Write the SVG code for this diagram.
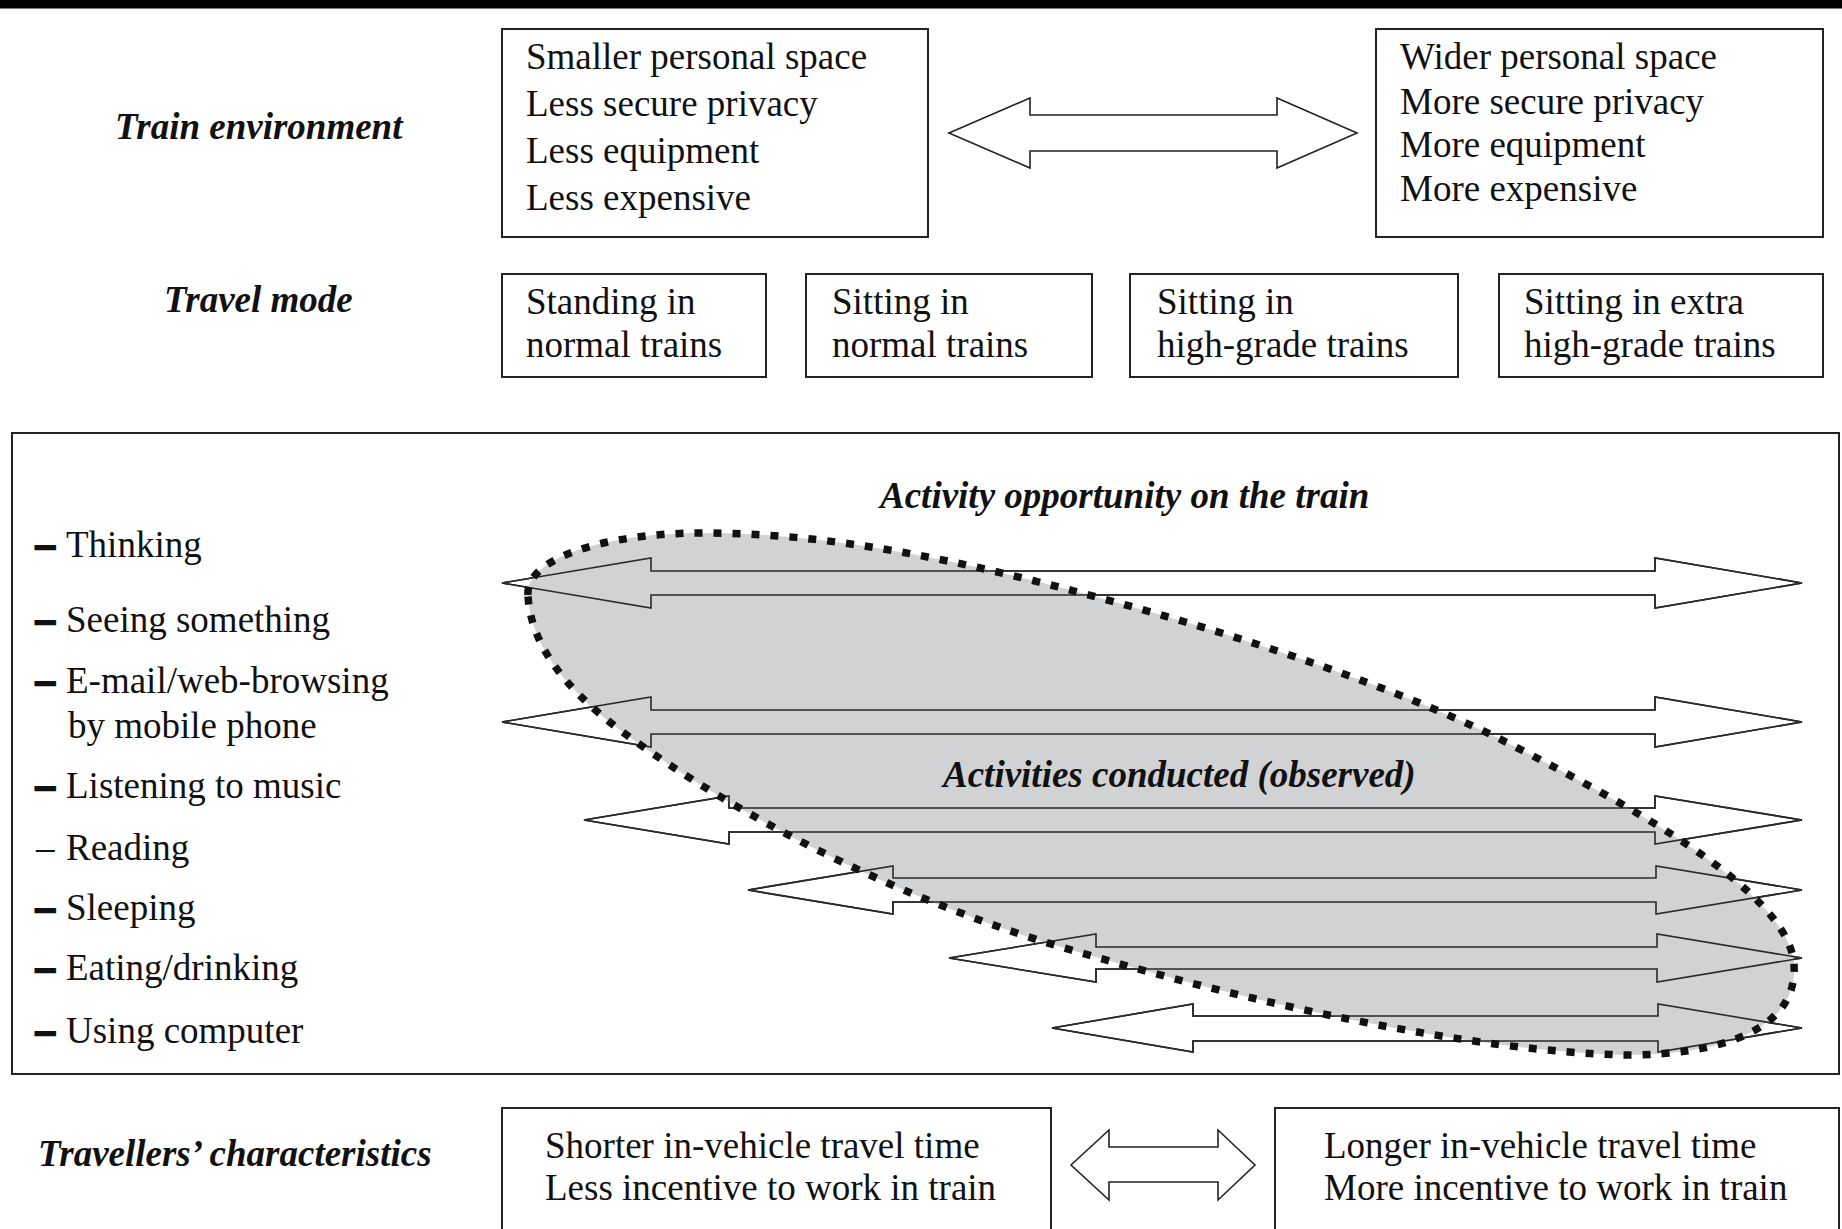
<svg xmlns="http://www.w3.org/2000/svg" xmlns:xlink="http://www.w3.org/1999/xlink" width="1842" height="1229" viewBox="0 0 1842 1229">
  <style>
    .t { font-family: "Liberation Serif", "Times New Roman", serif; font-size: 37px; fill: #111; }
    .h { font-weight: bold; font-style: italic; }
    .dash { font-weight: bold; stroke: #111; stroke-width: 2.6; }
    .box { fill: #fff; stroke: #222; stroke-width: 2; }
    .arrow { fill: #fff; stroke: #222; stroke-width: 1.6; stroke-linejoin: miter; }
    .outline { fill: none; stroke: #2a2a2a; stroke-width: 1.6; stroke-linejoin: miter; }
    .blob { fill: #d1d2d4; stroke: none; }
    .dots { fill: none; stroke: #111; stroke-width: 7.5; stroke-dasharray: 8 11; }
  </style>
  <defs>
    <!-- double-headed block arrows of the activity panel -->
    <path id="a1" d="M502,583 L651,558 L651,571 L1655,571 L1655,558 L1802,583 L1655,608 L1655,595 L651,595 L651,608 Z"/>
    <path id="a2" d="M502,722 L651,697 L651,710 L1655,710 L1655,697 L1802,722 L1655,747 L1655,734 L651,734 L651,747 Z"/>
    <path id="a3" d="M584,820 L729,796 L729,808 L1655,808 L1655,796 L1802,820 L1655,844 L1655,832 L729,832 L729,844 Z"/>
    <path id="a4" d="M748,890 L893,866 L893,878 L1656,878 L1656,866 L1802,890 L1656,914 L1656,902 L893,902 L893,914 Z"/>
    <path id="a5" d="M949,958 L1096,934 L1096,947 L1657,947 L1657,934 L1802,958 L1657,982 L1657,969 L1096,969 L1096,982 Z"/>
    <path id="a6" d="M1052,1028 L1193,1004 L1193,1016 L1658,1016 L1658,1004 L1802,1028 L1658,1052 L1658,1041 L1193,1041 L1193,1052 Z"/>
    <path id="observed" d="M528,595 C525,560 600,533 704,533 C830,533 960,560 1100,598 C1250,638 1400,690 1496,737 C1620,800 1790,890 1794,965 C1798,1030 1720,1055 1626,1055 C1480,1052 1250,1005 1038,940 C850,880 700,790 620,730 C560,685 530,640 528,595 Z"/>
  </defs>

  <rect x="0" y="0" width="1842" height="8.5" fill="#000"/>

  <!-- row labels -->
  <g id="label-train-environment"><text class="t h" x="115" y="139">Train environment</text></g>
  <g id="label-travel-mode"><text class="t h" x="164" y="312">Travel mode</text></g>
  <g id="label-travellers"><text class="t h" x="38" y="1166">Travellers’ characteristics</text></g>

  <!-- train environment -->
  <g id="env-low">
    <rect class="box" x="502" y="29" width="426" height="208"/>
    <text class="t" x="526" y="69">Smaller personal space</text>
    <text class="t" x="526" y="116">Less secure privacy</text>
    <text class="t" x="526" y="163">Less equipment</text>
    <text class="t" x="526" y="210">Less expensive</text>
  </g>
  <g id="env-high">
    <rect class="box" x="1376" y="29" width="447" height="208"/>
    <text class="t" x="1400" y="69">Wider personal space</text>
    <text class="t" x="1400" y="114">More secure privacy</text>
    <text class="t" x="1400" y="157">More equipment</text>
    <text class="t" x="1400" y="201">More expensive</text>
  </g>

  <!-- travel modes -->
  <g id="mode-standing">
    <rect class="box" x="502" y="274" width="264" height="103"/>
    <text class="t" x="526" y="314">Standing in</text>
    <text class="t" x="526" y="357">normal trains</text>
  </g>
  <g id="mode-sitting-normal">
    <rect class="box" x="806" y="274" width="286" height="103"/>
    <text class="t" x="832" y="314">Sitting in</text>
    <text class="t" x="832" y="357">normal trains</text>
  </g>
  <g id="mode-sitting-high">
    <rect class="box" x="1130" y="274" width="328" height="103"/>
    <text class="t" x="1157" y="314">Sitting in</text>
    <text class="t" x="1157" y="357">high-grade trains</text>
  </g>
  <g id="mode-sitting-extra">
    <rect class="box" x="1499" y="274" width="324" height="103"/>
    <text class="t" x="1524" y="314">Sitting in extra</text>
    <text class="t" x="1524" y="357">high-grade trains</text>
  </g>

  <!-- activity panel -->
  <g id="activity-panel">
    <rect class="box" x="12" y="433" width="1827" height="641"/>
    <text class="t h" x="880" y="508">Activity opportunity on the train</text>
    <g id="activity-list">
      <text class="t"><tspan class="dash" x="36" y="557">–</tspan><tspan x="66" y="557">Thinking</tspan></text>
      <text class="t"><tspan class="dash" x="36" y="632">–</tspan><tspan x="66" y="632">Seeing something</tspan></text>
      <text class="t"><tspan class="dash" x="36" y="693">–</tspan><tspan x="66" y="693">E-mail/web-browsing</tspan></text>
      <text class="t" x="68" y="738">by mobile phone</text>
      <text class="t"><tspan class="dash" x="36" y="798">–</tspan><tspan x="66" y="798">Listening to music</tspan></text>
      <text class="t"><tspan x="36" y="860">–</tspan><tspan x="66" y="860">Reading</tspan></text>
      <text class="t"><tspan class="dash" x="36" y="920">–</tspan><tspan x="66" y="920">Sleeping</tspan></text>
      <text class="t"><tspan class="dash" x="36" y="980">–</tspan><tspan x="66" y="980">Eating/drinking</tspan></text>
      <text class="t"><tspan class="dash" x="36" y="1043">–</tspan><tspan x="66" y="1043">Using computer</tspan></text>
    </g>
    <g id="opportunity-arrows">
      <use xlink:href="#a1" class="arrow"/>
      <use xlink:href="#a2" class="arrow"/>
      <use xlink:href="#a3" class="arrow"/>
      <use xlink:href="#a4" class="arrow"/>
      <use xlink:href="#a5" class="arrow"/>
      <use xlink:href="#a6" class="arrow"/>
    </g>
    <g id="activities-observed">
      <use xlink:href="#observed" class="blob"/>
      <use xlink:href="#a1" class="outline"/>
      <use xlink:href="#a2" class="outline"/>
      <use xlink:href="#a3" class="outline"/>
      <use xlink:href="#a4" class="outline"/>
      <use xlink:href="#a5" class="outline"/>
      <use xlink:href="#a6" class="outline"/>
      <use xlink:href="#observed" class="dots"/>
      <text class="t h" x="943" y="787">Activities conducted (observed)</text>
    </g>
  </g>

  <!-- travellers' characteristics -->
  <g id="trav-short">
    <rect class="box" x="502" y="1108" width="549" height="140"/>
    <text class="t" x="545" y="1158">Shorter in-vehicle travel time</text>
    <text class="t" x="545" y="1200">Less incentive to work in train</text>
  </g>
  <g id="trav-long">
    <rect class="box" x="1275" y="1108" width="564" height="140"/>
    <text class="t" x="1324" y="1158">Longer in-vehicle travel time</text>
    <text class="t" x="1324" y="1200">More incentive to work in train</text>
  </g>

  <!-- range connectors -->
  <g id="connectors">
    <path class="arrow" d="M949,133 L1030,98 L1030,115 L1277,115 L1277,98 L1357,133 L1277,168 L1277,151 L1030,151 L1030,168 Z"/>
    <path class="arrow" d="M1071,1165 L1109,1130 L1109,1147 L1218,1147 L1218,1130 L1255,1165 L1218,1200 L1218,1182 L1109,1182 L1109,1200 Z"/>
  </g>
</svg>
